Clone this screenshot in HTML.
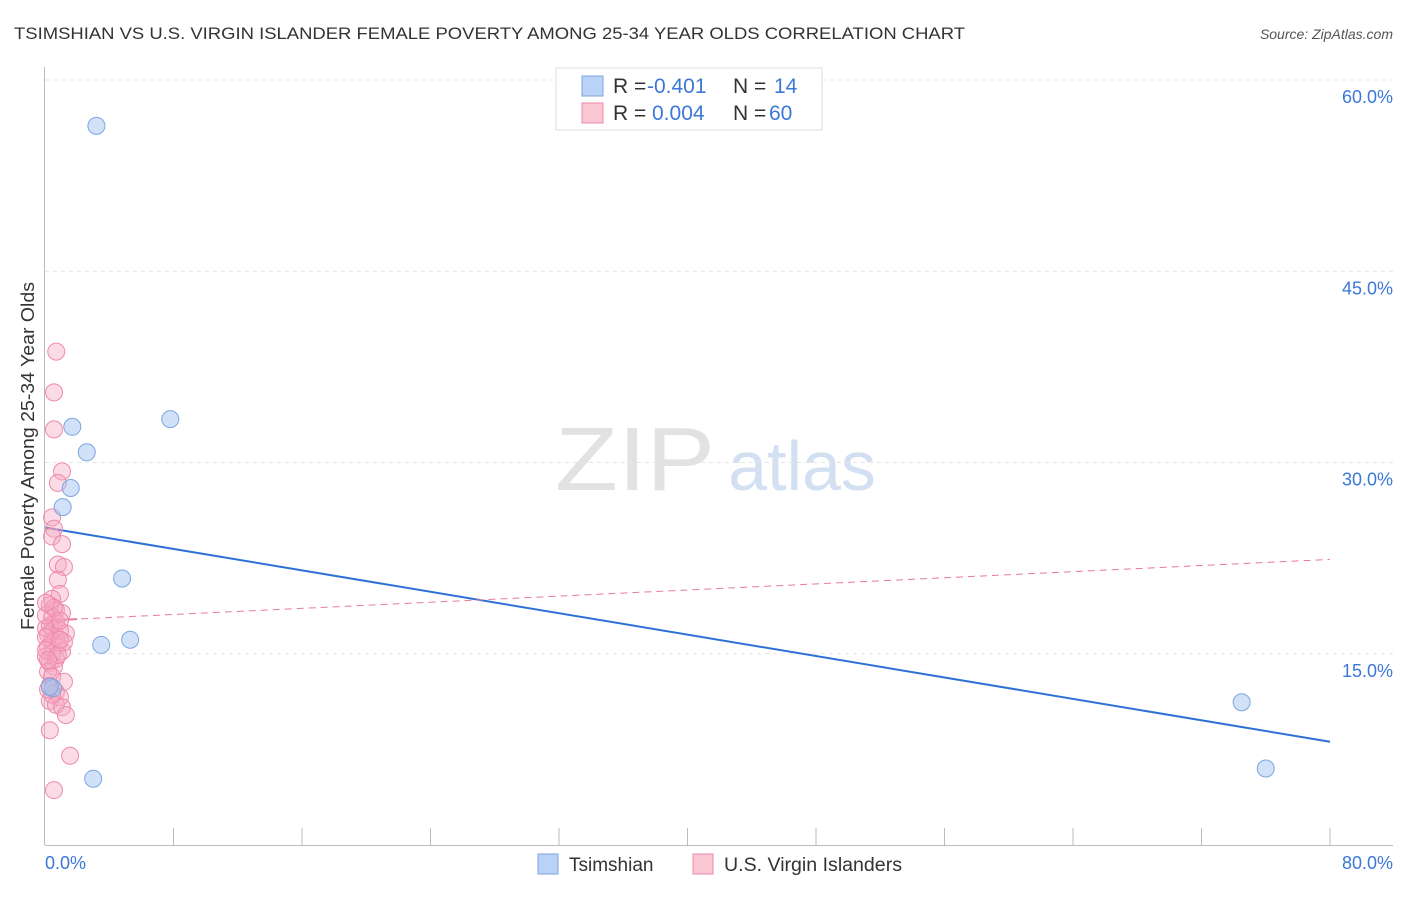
<!DOCTYPE html>
<html><head><meta charset="utf-8"><style>
body{margin:0;background:#fff;font-family:"Liberation Sans",sans-serif}
svg text{font-family:"Liberation Sans",sans-serif}
</style></head><body>
<svg width="1406" height="892">
<text x="14" y="39" font-size="17" fill="#333" textLength="951" lengthAdjust="spacingAndGlyphs">TSIMSHIAN VS U.S. VIRGIN ISLANDER FEMALE POVERTY AMONG 25-34 YEAR OLDS CORRELATION CHART</text>
<text x="1393" y="39" font-size="14" fill="#555" font-style="italic" text-anchor="end">Source: ZipAtlas.com</text>
<text x="635" y="490" font-size="90" fill="#e2e2e2" font-family="Liberation Serif" text-anchor="middle" textLength="160" lengthAdjust="spacingAndGlyphs">ZIP</text>
<text x="802" y="490" font-size="70" fill="#d3e0f2" text-anchor="middle">atlas</text>
<g id="grid"></g>
<g id="axes"></g>
<text transform="translate(34,456) rotate(-90)" font-size="18" fill="#333" text-anchor="middle" textLength="348" lengthAdjust="spacingAndGlyphs">Female Poverty Among 25-34 Year Olds</text>
<text x="45" y="869" font-size="18" fill="#3b78d8">0.0%</text>
<text x="1393" y="869" font-size="18" fill="#3b78d8" text-anchor="end">80.0%</text>
<g id="lines"></g>
<g id="points"></g>
<g>
<rect x="556" y="68" width="266" height="62" fill="#fff" stroke="#ddd"/>
<rect x="582" y="76" width="21" height="20" fill="#b9d2f5" stroke="#7da6e0"/>
<rect x="582" y="103" width="21" height="20" fill="#f9c6d4" stroke="#ee8aaa"/>
<text x="613" y="93" font-size="21" fill="#333">R = <tspan fill="#3b78d8" x="647">-0.401</tspan><tspan x="733">N = </tspan><tspan x="774" fill="#3b78d8">14</tspan></text>
<text x="613" y="120" font-size="21" fill="#333">R = <tspan fill="#3b78d8" x="652">0.004</tspan><tspan x="733">N = </tspan><tspan x="769" fill="#3b78d8">60</tspan></text>
</g>
<g>
<rect x="538" y="854" width="20" height="20" fill="#b9d2f5" stroke="#7da6e0"/>
<text x="569" y="871" font-size="19" fill="#333">Tsimshian</text>
<rect x="693" y="854" width="20" height="20" fill="#f9c6d4" stroke="#ee8aaa"/>
<text x="724" y="871" font-size="19" fill="#333" textLength="178" lengthAdjust="spacingAndGlyphs">U.S. Virgin Islanders</text>
</g>
</svg>
<script>
const yTicks=[15,30,45,60];
const yTickLabels=["15.0%","30.0%","45.0%","60.0%"];
const blueX=[3.2,1.7,2.6,7.8,1.6,1.1,4.8,3.5,5.3,0.5,0.3,3.0,74.5,76.0];
const blueY=[56.4,32.8,30.8,33.4,28.0,26.5,20.9,15.7,16.1,12.3,12.4,5.2,11.2,6.0];
const pinkX=[0.7,0.56,0.56,1.06,0.8,0.44,0.56,0.44,1.06,0.8,1.18,0.8,0.93,0.44,0.3,0.68,1.06,0.44,0.68,0.3,0.56,1.3,0.19,0.68,0.44,0.8,0.19,1.06,0.44,0.06,0.68,0.3,0.56,0.19,0.44,1.18,0.3,0.68,0.93,0.3,0.68,1.06,1.3,0.3,1.56,0.56,0.06,0.93,0.06,1.18,0.06,0.8,0.06,0.56,0.06,0.93,0.93,0.19,0.44,0.19];
const pinkY=[38.7,35.5,32.6,29.3,28.4,25.7,24.8,24.2,23.6,22.0,21.8,20.8,19.7,19.3,18.8,18.4,18.2,17.9,17.5,17.2,16.9,16.6,16.5,16.2,16.0,15.7,15.5,15.2,15.0,14.8,14.6,14.3,14.0,13.6,13.2,12.8,12.5,12.0,11.6,11.3,11.0,10.8,10.2,9.0,7.0,4.3,17.0,16.8,16.3,15.9,15.3,14.9,18.0,18.6,19.0,17.6,16.1,14.5,11.8,12.2];
const blueTrend=[24.9,8.1];
const pinkTrend=[17.6,22.4];
const NS="http://www.w3.org/2000/svg";
const sx=v=>45+v*1285/80, sy=v=>845-v*12.75;
function mk(t,a,p){const e=document.createElementNS(NS,t);for(const k in a)e.setAttribute(k,a[k]);p.appendChild(e);return e;}
const grid=document.getElementById('grid');
yTicks.forEach((t,i)=>{
 const l=mk('line',{x1:45,x2:1393,y1:sy(t),y2:sy(t),stroke:'#e4e4e4','stroke-dasharray':'4,4'},grid);
 
 
 const tx=mk('text',{x:1393,y:sy(t)+23,'font-size':18,fill:'#3b78d8','text-anchor':'end'},grid);
 tx.textContent=yTickLabels[i];
 
 
});
const ax=document.getElementById('axes');
const ya=mk('line',{x1:44.5,x2:44.5,y1:67,y2:845,stroke:'#bbb'},ax);


const xa=mk('line',{x1:45,x2:1393,y1:845.5,y2:845.5,stroke:'#bbb'},ax);


for(let v=8;v<=80;v+=8){
 const t=mk('line',{x1:sx(v),x2:sx(v),y1:828,y2:845,stroke:'#bbb'},ax);
 
 
}
const ln=document.getElementById('lines');
const bl=mk('line',{x1:sx(0),y1:sy(blueTrend[0]),x2:sx(80),y2:sy(blueTrend[1]),stroke:'#2f6fd6','stroke-width':2},ln);


const pl=mk('line',{x1:sx(0),y1:sy(pinkTrend[0]),x2:sx(80),y2:sy(pinkTrend[1]),stroke:'#e8799c','stroke-width':1,'stroke-dasharray':'7,5'},ln);


const ps=mk('line',{x1:sx(0),y1:sy(pinkTrend[0]),x2:sx(2),y2:sy(pinkTrend[0]+(pinkTrend[1]-pinkTrend[0])*2/80),stroke:'#e8799c','stroke-width':2},ln);


const pts=document.getElementById('points');
pinkX.forEach((x,i)=>{
 const c=mk('circle',{cx:sx(x),cy:sy(pinkY[i]),r:8.5,fill:'rgba(244,168,192,0.4)',stroke:'#ee8aaa','stroke-width':1},pts);
 
 
});
blueX.forEach((x,i)=>{
 const c=mk('circle',{cx:sx(x),cy:sy(blueY[i]),r:8.5,fill:'rgba(164,196,240,0.5)',stroke:'#7da6e0','stroke-width':1},pts);
 
 
});
</script>
</body></html>
